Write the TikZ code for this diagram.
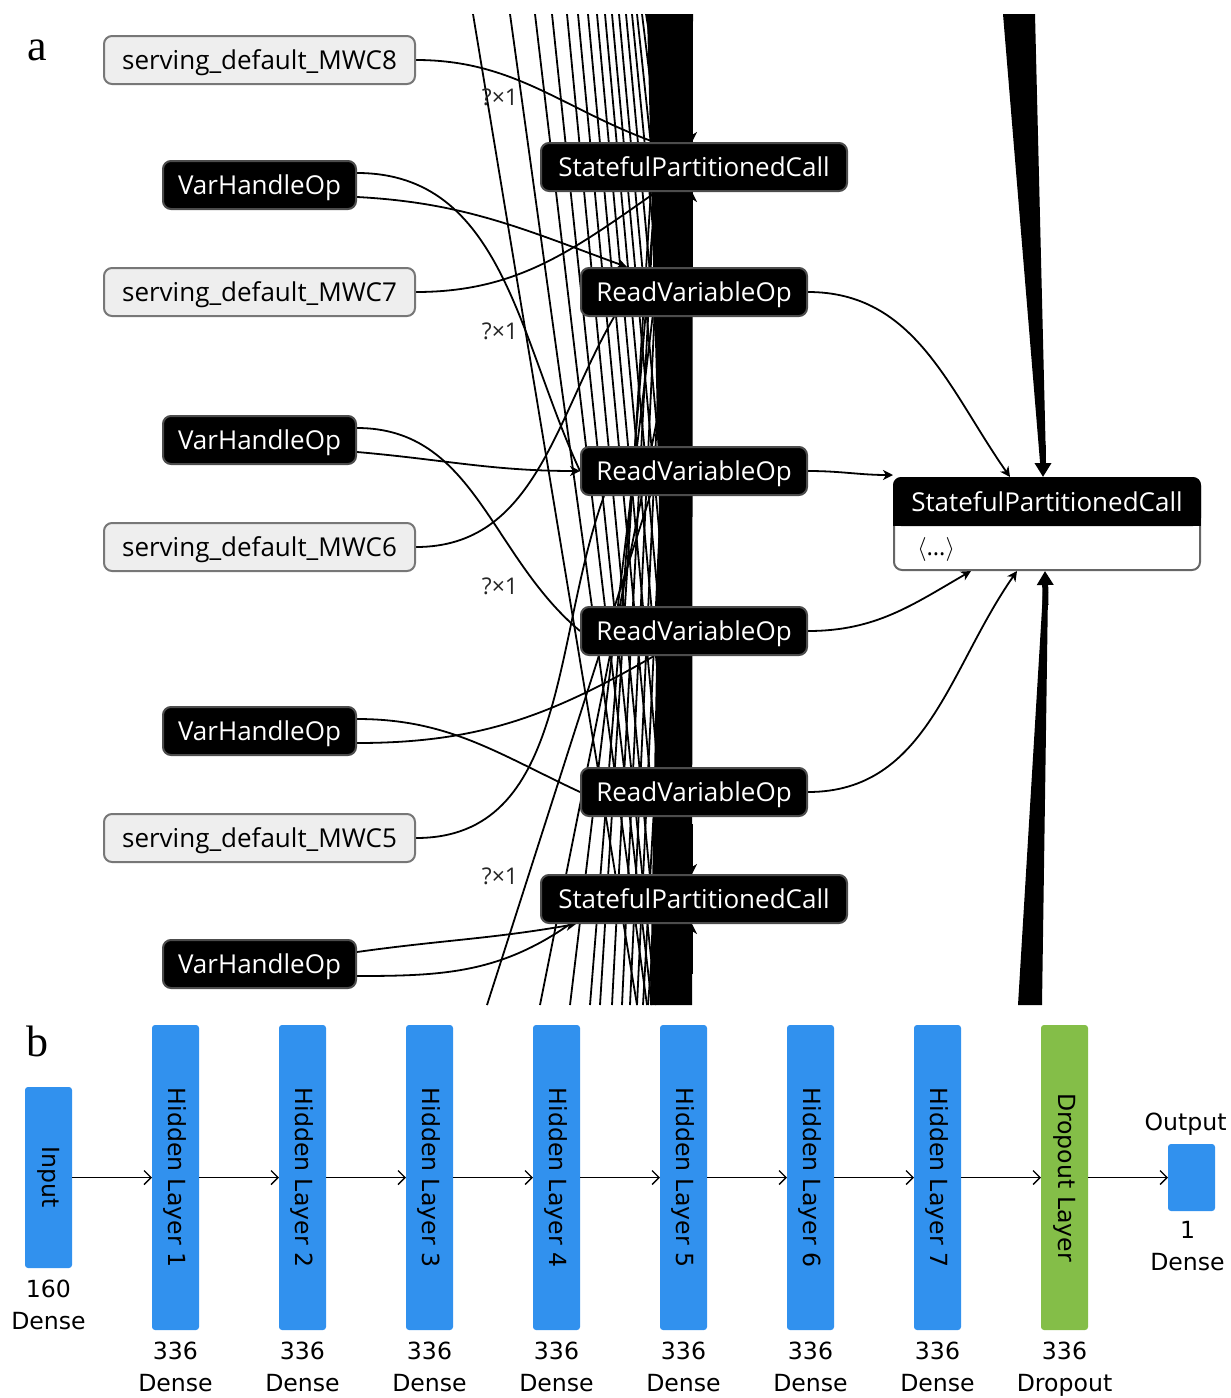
\documentclass[tikz,border=0pt]{standalone}
\usepackage{fontspec}
\setmainfont{Open Sans}
\newfontfamily\kerasfont{DejaVu Sans}
\newfontfamily\panelfont{Liberation Serif}
\usepackage{tikz}
\usetikzlibrary{positioning,arrows.meta,backgrounds}
\definecolor{inpfill}{HTML}{EEEEEE}
\definecolor{inpdraw}{HTML}{777777}
\definecolor{kblue}{HTML}{3191EE}
\definecolor{kgreen}{HTML}{84BE48}
\tikzset{
  inp/.style     ={rounded corners=4pt, draw=inpdraw, fill=inpfill, line width=1pt,
                   font=\fontsize{13}{15}\selectfont, minimum width=155.5pt, minimum height=24pt, inner sep=0pt,
                   text height=10pt, text depth=1pt},
  op/.style      ={rounded corners=4pt, draw=black!70, fill=black, text=white, line width=1pt,
                   font=\fontsize{13}{15}\selectfont, minimum height=24pt, inner sep=0pt,
                   text height=10pt, text depth=1pt},
  dimlbl/.style  ={font=\fontsize{11.5}{13}\selectfont, text=black!85, inner sep=0pt},
  wire/.style    ={line width=0.9pt},
  flowedge/.style={line width=0.9pt, -{Stealth[length=5pt,width=5pt,inset=1.5pt]}},
  bigarr/.style  ={line width=3pt, -{Triangle[length=7pt,width=8pt]}},
  klayer/.style  ={rounded corners=1.5pt, fill=#1, minimum width=23.5pt, inner sep=0pt, outer sep=0pt,
                   font=\kerasfont\fontsize{11.8}{14}\selectfont},
  klbl/.style    ={font=\kerasfont\fontsize{11.8}{16}\selectfont, align=center, inner sep=0pt},
  karr/.style    ={-{Straight Barb[length=3.5pt,width=7pt]}, line width=0.7pt},
}

\begin{document}
\begin{tikzpicture}[x=0.5pt,y=-0.5pt]
\useasboundingbox (0,0) rectangle (1231,1398);

% ---- panel a : graph
\node[font=\panelfont\fontsize{22}{24}\selectfont, inner sep=0pt] (pa) at (37,50) {a};

\node[inp] (mwc8) at (259.5,60) {serving\_default\_MWC8};
\node[inp] (mwc7) at (259.5,292) {serving\_default\_MWC7};
\node[inp] (mwc6) at (259.5,547) {serving\_default\_MWC6};
\node[inp] (mwc5) at (259.5,838) {serving\_default\_MWC5};
\node[op, minimum width=96.5pt] (vho1) at (259.5,185) {VarHandleOp};
\node[op, minimum width=96.5pt] (vho2) at (259.5,440) {VarHandleOp};
\node[op, minimum width=96.5pt] (vho3) at (259.5,731) {VarHandleOp};
\node[op, minimum width=96.5pt] (vho4) at (259.5,964) {VarHandleOp};

\node[op, minimum width=153pt] (spcT) at (694,167) {StatefulPartitionedCall};
\node[op, minimum width=113pt] (rvo1) at (694,292) {ReadVariableOp};
\node[op, minimum width=113pt] (rvo2) at (694,471) {ReadVariableOp};
\node[op, minimum width=113pt] (rvo3) at (694,631) {ReadVariableOp};
\node[op, minimum width=113pt] (rvo4) at (694,792) {ReadVariableOp};
\node[op, minimum width=153pt] (spcB) at (694,899) {StatefulPartitionedCall};

% big call node with header
\node[draw=black!60, fill=white, rounded corners=4pt, line width=1pt,
      minimum width=153pt, minimum height=46pt, inner sep=0pt] (spcR) at (1047,524) {};
\fill[black, rounded corners=4pt] (spcR.north west) rectangle ([yshift=-24.5pt]spcR.north east);
\fill[black] ([yshift=-12pt]spcR.north west) rectangle ([yshift=-24.5pt]spcR.north east);
\node[text=white, font=\fontsize{13}{15}\selectfont, inner sep=0pt, text height=10pt, text depth=1pt] (spcRt) at ([yshift=-12.5pt]spcR.north) {StatefulPartitionedCall};
\node[anchor=west, font=\fontsize{12}{14}\selectfont, inner sep=0pt] (spcRb) at ([xshift=12pt,yshift=11pt]spcR.south west) {$\langle$\ldots$\rangle$};

\node[dimlbl] (d8) at (500,97) {?×1};
\node[dimlbl] (d7) at (500,331) {?×1};
\node[dimlbl] (d6) at (500,586) {?×1};
\node[dimlbl] (d5) at (500,876) {?×1};

\begin{scope}[on background layer]
\clip (0,14) rectangle (1231,1005);
% edges running down past the visible part
\foreach \xa/\xe/\ye in {473/637/1005, 510/647/1005, 535/652/1005, 552/656/1005, 567/658/960,
                         578/660/880, 588/660/790, 597/660/700, 605/660/620, 612/660/540,
                         619/660/460, 626/660/380, 632/660/300, 637/660/230, 642/660/160, 646/660/100}
  \draw[wire] (\xa,14) -- (\xe,\ye);
% edges running up past the visible part
\foreach \xb/\xe/\ye in {487/660/465, 540/660/405, 570/660/255, 590/662/110, 600/662/14,
                         612/664/14, 622/660/200, 630/660/350, 637/660/520, 643/660/700, 648/660/850}
  \draw[wire] (\xb,1005) -- (\xe,\ye);

\draw[wire] (mwc8.east) to[out=0,in=160] ([xshift=-20pt]spcT.north);
\draw[wire] ([yshift=6pt]vho1.east) to[out=0,in=115] (rvo2.west);
\draw[flowedge] ([yshift=-6pt]vho1.east) to[out=-3,in=160] ([xshift=-33.5pt]rvo1.north);
\draw[wire] (mwc7.east) to[out=0,in=-145] ([xshift=-19pt]spcT.south);
\draw[wire] ([yshift=6pt]vho2.east) to[out=0,in=140] (rvo3.west);
\draw[flowedge] ([yshift=-6pt]vho2.east) to[out=-5,in=180] (rvo2.west);
\draw[wire] (mwc6.east) to[out=0,in=-120] ([xshift=-40pt]rvo1.south);
\draw[wire] ([yshift=6pt]vho3.east) to[out=0,in=155] (rvo4.west);
\draw[wire] ([yshift=-6pt]vho3.east) to[out=0,in=-150] ([xshift=-20pt]rvo3.south);
\draw[wire] (mwc5.east) to[out=0,in=-110] ([xshift=-45pt]rvo2.south);
\draw[flowedge] ([yshift=6pt]vho4.east) to[out=8,in=-170] ([xshift=-59pt]spcB.south);
\draw[wire] ([yshift=-6pt]vho4.east) to[out=0,in=-145] ([xshift=-62pt]spcB.south);

% dense bundle
\fill (647,14) -- (693,14) -- (692,1005) -- (650,1005) -- (659,500) -- cycle;
\draw[flowedge] ([xshift=-1pt,yshift=25pt]spcT.north) -- ([xshift=-1pt]spcT.north);
\draw[flowedge] ([xshift=-1pt,yshift=-25pt]spcT.south) -- ([xshift=-1pt]spcT.south);
\draw[flowedge] ([xshift=-1pt,yshift=25pt]spcB.north) -- ([xshift=-1pt]spcB.north);
\draw[flowedge] ([xshift=-1pt,yshift=-25pt]spcB.south) -- ([xshift=-1pt]spcB.south);

\draw[flowedge] (rvo1.east) to[out=0,in=125] ([xshift=-18.5pt]spcR.north);
\draw[flowedge] (rvo2.east) to[out=0,in=180] ([yshift=1pt]spcR.north west);
\draw[flowedge] (rvo3.east) to[out=0,in=-150] ([xshift=-38pt]spcR.south);
\draw[flowedge] (rvo4.east) to[out=0,in=-125] ([xshift=-15pt]spcR.south);

\fill (1003,14) -- (1035,14) -- (1046,462) -- (1040,462) -- cycle;
\draw[bigarr] (1043,445) -- ([xshift=-2pt]spcR.north);
\fill (1018,1005) -- (1042,1005) -- (1048,592) -- (1043,592) -- cycle;
\draw[bigarr] (1045.5,605) -- ([xshift=-1pt]spcR.south);
\end{scope}

% ---- panel b : layers
\node[font=\panelfont\fontsize{22}{24}\selectfont, inner sep=0pt] (pb) at (37,1041) {b};

\node[klayer=kblue, minimum height=90.5pt] (inl) at (48.5,1177.5) {\rotatebox{-90}{Input}};
\node[klayer=kblue, minimum height=152.5pt, right=40pt of inl] (hl1) {\rotatebox{-90}{Hidden Layer 1}};
\node[klayer=kblue, minimum height=152.5pt, right=40pt of hl1] (hl2) {\rotatebox{-90}{Hidden Layer 2}};
\node[klayer=kblue, minimum height=152.5pt, right=40pt of hl2] (hl3) {\rotatebox{-90}{Hidden Layer 3}};
\node[klayer=kblue, minimum height=152.5pt, right=40pt of hl3] (hl4) {\rotatebox{-90}{Hidden Layer 4}};
\node[klayer=kblue, minimum height=152.5pt, right=40pt of hl4] (hl5) {\rotatebox{-90}{Hidden Layer 5}};
\node[klayer=kblue, minimum height=152.5pt, right=40pt of hl5] (hl6) {\rotatebox{-90}{Hidden Layer 6}};
\node[klayer=kblue, minimum height=152.5pt, right=40pt of hl6] (hl7) {\rotatebox{-90}{Hidden Layer 7}};
\node[klayer=kgreen, minimum height=152.5pt, right=40pt of hl7] (drop) {\rotatebox{-90}{Dropout Layer}};
\node[klayer=kblue, minimum height=33.5pt, right=40pt of drop] (outl) {};

\node[klbl, below=6pt of inl] (inlbl) {160\\Dense};
\foreach \n in {hl1,hl2,hl3,hl4,hl5,hl6,hl7}
  \node[klbl, below=6pt of \n] (\n lbl) {336\\Dense};
\node[klbl, below=6pt of drop] (droplbl) {336\\Dropout};
\node[klbl, above=4pt of outl, xshift=-3pt] (outtop) {Output};
\node[klbl, below=5pt of outl, xshift=-2pt] (outlbl) {1\\Dense};

\draw[karr] (inl) -- (hl1);
\draw[karr] (hl1) -- (hl2);
\draw[karr] (hl2) -- (hl3);
\draw[karr] (hl3) -- (hl4);
\draw[karr] (hl4) -- (hl5);
\draw[karr] (hl5) -- (hl6);
\draw[karr] (hl6) -- (hl7);
\draw[karr] (hl7) -- (drop);
\draw[karr] (drop) -- (outl);
\end{tikzpicture}
\end{document}
